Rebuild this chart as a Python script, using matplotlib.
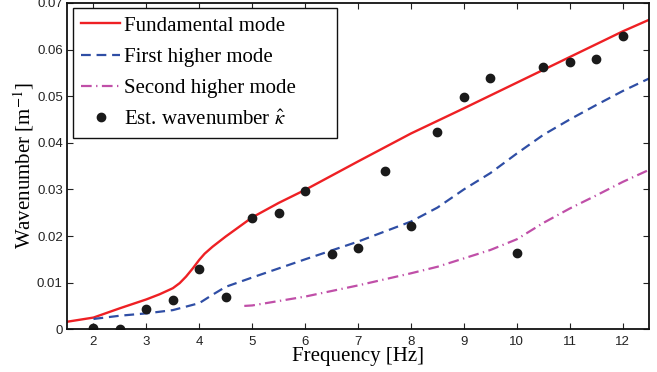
import matplotlib
matplotlib.use("Agg")
import matplotlib.pyplot as plt
from matplotlib.ticker import FuncFormatter

# estimated wavenumbers (dots)
est_freq = [2, 2.5, 3, 3.5, 4, 4.5, 5, 5.5, 6, 6.5, 7, 7.5, 8, 8.5, 9, 9.5, 10, 10.5, 11, 11.5, 12]
est_k = [0.0003, 0.0, 0.0044, 0.0062, 0.0129, 0.0070, 0.0239, 0.0249, 0.0296, 0.0162, 0.0174,
         0.0340, 0.0222, 0.0423, 0.0498, 0.0539, 0.0164, 0.0562, 0.0574, 0.0580, 0.0630]

# fundamental mode
fund_freq = [1.5, 2.0, 2.5, 3.0, 3.25, 3.5, 3.63, 3.75, 3.88, 4.0, 4.1, 4.25, 4.5, 5.0, 5.5, 6.0,
             7.0, 8.0, 9.0, 10.0, 11.0, 12.0, 12.5]
fund_k = [0.0016, 0.0025, 0.0045, 0.0064, 0.0075, 0.0088, 0.0099, 0.0113, 0.0131, 0.0149, 0.0162,
          0.0177, 0.0199, 0.0240, 0.0271, 0.0299, 0.0360, 0.0420, 0.0474, 0.0529, 0.0584, 0.0639, 0.0664]

# first higher mode
first_freq = [2.0, 2.5, 3.0, 3.5, 4.0, 4.25, 4.5, 5.0, 6.0, 7.0, 8.0, 8.5, 9.0, 9.5, 10.0, 10.5, 11.0, 11.5, 12.0, 12.5]
first_k = [0.0022, 0.0029, 0.0034, 0.0041, 0.0056, 0.0074, 0.0091, 0.0111, 0.0150, 0.0188, 0.0231,
           0.0261, 0.0300, 0.0335, 0.0377, 0.0417, 0.0450, 0.0481, 0.0511, 0.0538]

# second higher mode
second_freq = [4.85, 5.0, 6.0, 7.0, 8.0, 8.5, 9.0, 9.5, 10.0, 10.5, 11.0, 11.5, 12.0, 12.5]
second_k = [0.0050, 0.0051, 0.0070, 0.0094, 0.0120, 0.0134, 0.0152, 0.0170, 0.0193, 0.0228,
            0.0259, 0.0287, 0.0316, 0.0342]

xticks = [2, 3, 4, 5, 6, 7, 8, 9, 10, 11, 12]
yticks = [0, 0.01, 0.02, 0.03, 0.04, 0.05, 0.06, 0.07]

plt.rcParams['mathtext.fontset'] = 'stix'
serif = ['Liberation Serif', 'DejaVu Serif']

fig = plt.figure(figsize=(6.57, 3.72), dpi=100)
ax = fig.add_axes([0.102, 0.115, 0.886, 0.877])

ax.plot(fund_freq, fund_k, color='#ee2024', lw=1.7, label='Fundamental mode')
ax.plot(first_freq, first_k, color='#2f4ea5', lw=1.6, linestyle=(0, (4.4, 2.6)), label='First higher mode')
ax.plot(second_freq, second_k, color='#c04fa8', lw=1.6, linestyle=(0, (4.8, 2.0, 0.6, 2.0)),
        label='Second higher mode')
ax.plot(est_freq, est_k, 'o', color='#1a1a1a', ms=6, label=r'Est. wavenumber $\hat{\kappa}$')

ax.set_xlim(1.5, 12.5)
ax.set_ylim(0, 0.07)
ax.set_xticks(xticks)
ax.set_yticks(yticks)
ax.yaxis.set_major_formatter(FuncFormatter(lambda v, p: '0' if v == 0 else '%.2f' % v))
ax.tick_params(direction='in', top=True, right=True, length=4, width=0.8,
               labelsize=9.5, colors='#222222')
ax.tick_params(axis='x', pad=5)
ax.tick_params(axis='y', pad=3)
for lab in ax.get_xticklabels() + ax.get_yticklabels():
    lab.set_family('Liberation Sans')
for s in ax.spines.values():
    s.set_linewidth(1.3)
    s.set_color('#111111')

ax.set_xlabel('Frequency [Hz]', family=serif, fontsize=15, labelpad=-1)
ax.set_ylabel(r'Wavenumber [m$^{-1}$]', family=serif, fontsize=15, labelpad=1)

leg = ax.legend(loc='upper left', bbox_to_anchor=(0.0103, 0.0, 0.4536, 0.985), mode='expand',
                borderaxespad=0, prop={'family': serif, 'size': 15}, fancybox=False,
                framealpha=1, edgecolor='#111111', handlelength=1.85, handletextpad=0.2,
                labelspacing=0.56, borderpad=0.4)
leg.get_frame().set_linewidth(1.0)

fig.savefig('out.png', dpi=100)
